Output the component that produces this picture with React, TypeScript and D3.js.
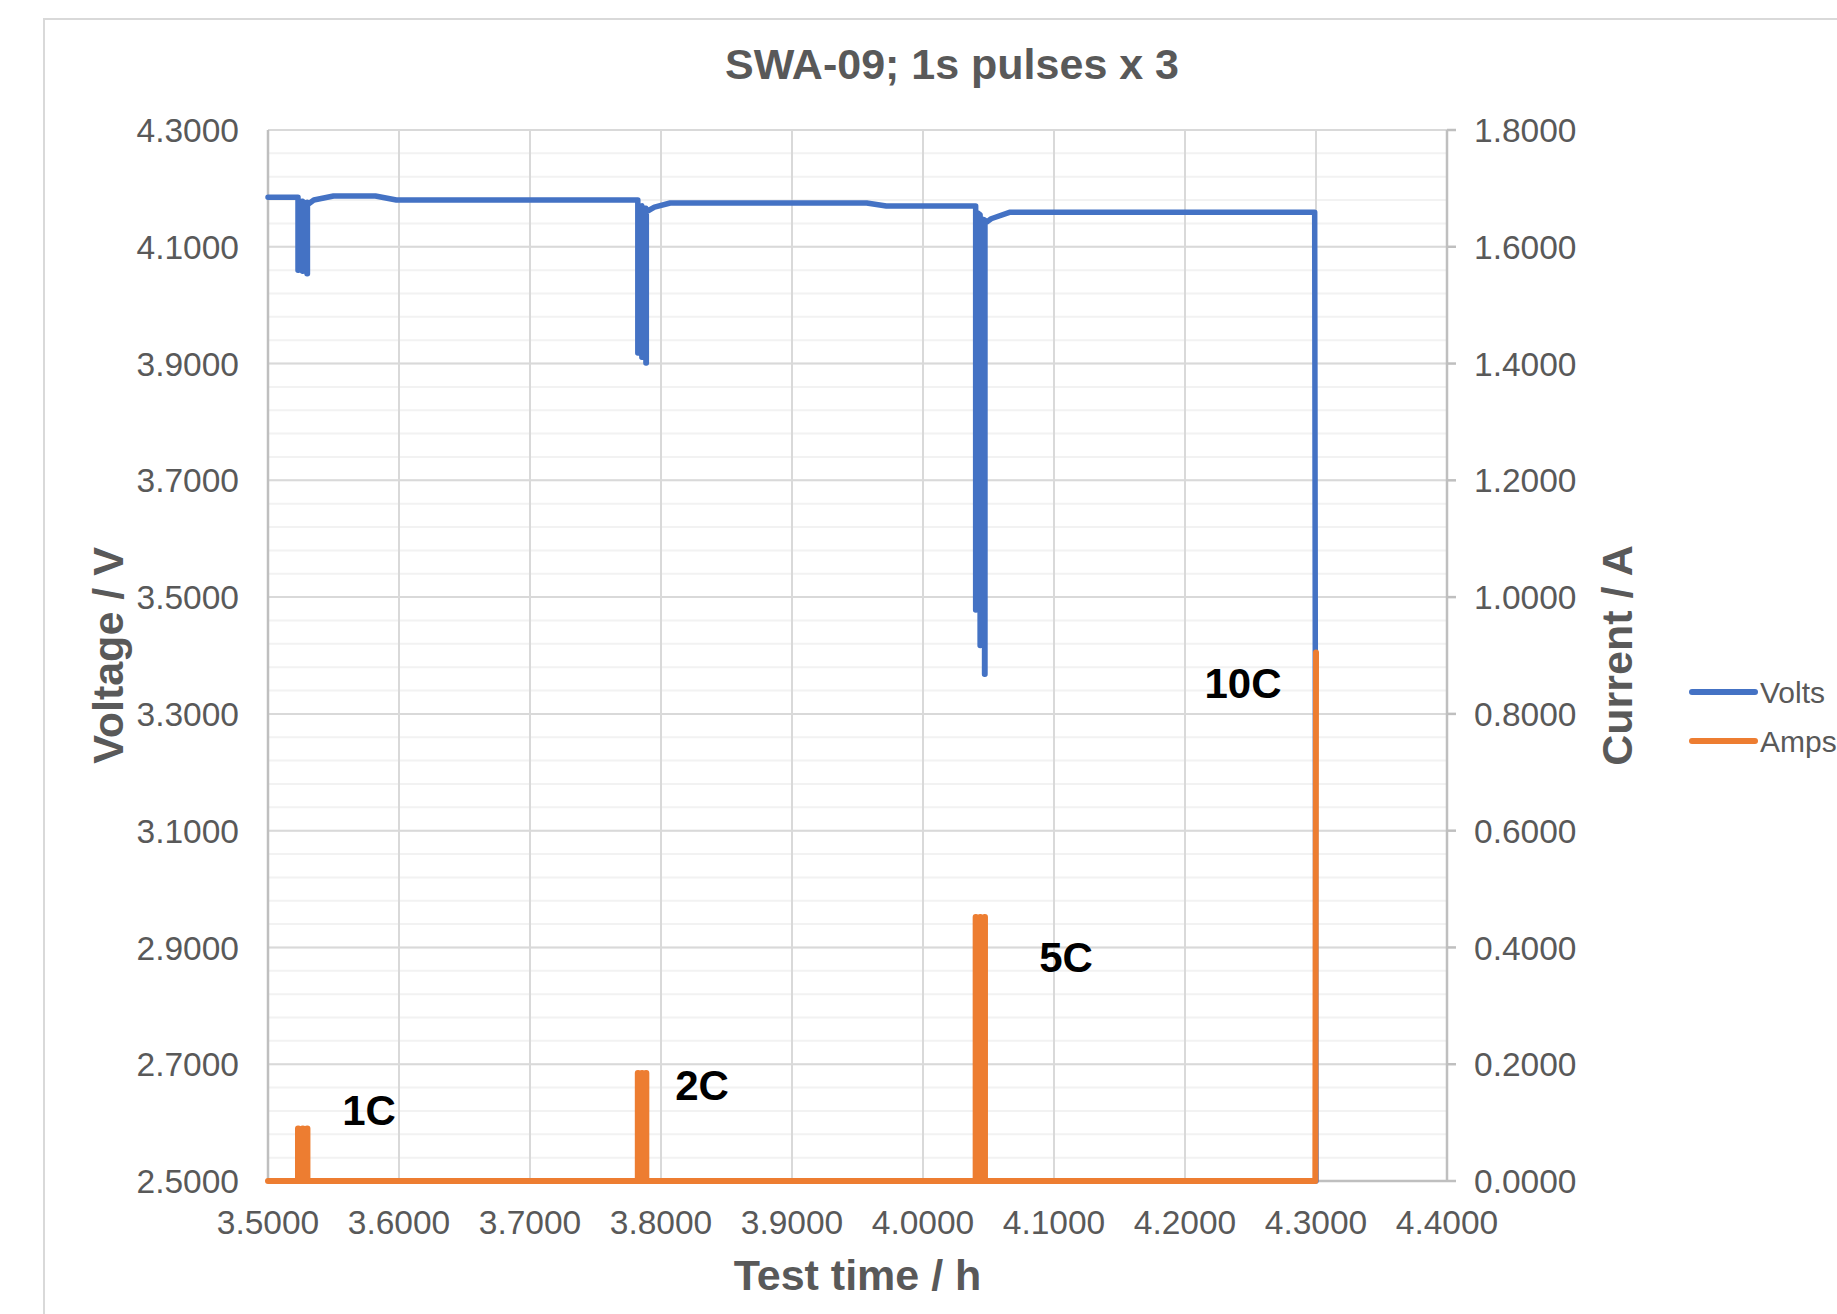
import React, { useEffect, useRef } from "react";
import * as d3 from "d3";

// Voltage trace (test time in hours, volts)
const voltTime = [
  3.5, 3.5229, 3.5229, 3.5232, 3.5232, 3.5264, 3.5264, 3.5267, 3.5267, 3.5298, 3.5298, 3.5301, 3.5301,
  3.535, 3.55, 3.582, 3.598, 3.7823, 3.7823, 3.7826, 3.7826, 3.7854, 3.7854, 3.7857, 3.7857, 3.7885,
  3.7885, 3.7888, 3.7888, 3.795, 3.807, 3.957, 3.972, 4.0402, 4.0402, 4.0405, 4.0405, 4.0436, 4.0436,
  4.0439, 4.0439, 4.047, 4.047, 4.0473, 4.0473, 4.052, 4.066, 4.299, 4.3,
];
const voltValues = [
  4.185, 4.185, 4.06, 4.06, 4.176, 4.178, 4.058, 4.058, 4.174, 4.176, 4.054, 4.054, 4.172,
  4.18, 4.187, 4.187, 4.18, 4.18, 3.918, 3.918, 4.168, 4.17, 3.911, 3.911, 4.164, 4.166,
  3.901, 3.901, 4.16, 4.168, 4.175, 4.175, 4.17, 4.17, 3.478, 3.478, 4.16, 4.155, 3.417,
  3.417, 4.148, 4.146, 3.368, 3.368, 4.14, 4.148, 4.159, 4.159, 2.5,
];

// Current trace (test time in hours, amps)
const ampTime = [
  3.5, 3.5229, 3.5229, 3.5232, 3.5232, 3.5264, 3.5264, 3.5267, 3.5267, 3.5298, 3.5298, 3.5301, 3.5301,
  3.7823, 3.7823, 3.7826, 3.7826, 3.7854, 3.7854, 3.7857, 3.7857, 3.7885, 3.7885, 3.7888, 3.7888,
  4.0402, 4.0402, 4.0405, 4.0405, 4.0436, 4.0436, 4.0439, 4.0439, 4.047, 4.047, 4.0473, 4.0473,
  4.2995, 4.3,
];
const ampValues = [
  0, 0, 0.09, 0.09, 0, 0, 0.09, 0.09, 0, 0, 0.09, 0.09, 0,
  0, 0.185, 0.185, 0, 0, 0.185, 0.185, 0, 0, 0.185, 0.185, 0,
  0, 0.452, 0.452, 0, 0, 0.452, 0.452, 0, 0, 0.452, 0.452, 0,
  0, 0.905,
];

const xTicks = [3.5, 3.6, 3.7, 3.8, 3.9, 4.0, 4.1, 4.2, 4.3, 4.4];
const voltTicks = [2.5, 2.7, 2.9, 3.1, 3.3, 3.5, 3.7, 3.9, 4.1, 4.3];
const voltMinorTicks = d3.range(2.5, 4.3001, 0.04);
const ampTicks = [0, 0.2, 0.4, 0.6, 0.8, 1.0, 1.2, 1.4, 1.6, 1.8];

const pulseLabels = [
  { text: "1C", t: 3.5771, a: 0.122 },
  { text: "2C", t: 3.8313, a: 0.164 },
  { text: "5C", t: 4.1092, a: 0.384 },
  { text: "10C", t: 4.2443, a: 0.853 },
];

const legendItems = [
  { name: "Volts", color: "#4472C4" },
  { name: "Amps", color: "#ED7D31" },
];

const FONT = "'Liberation Sans', Arial, sans-serif";

export default function App() {
  const ref = useRef<SVGSVGElement>(null);

  useEffect(() => {
    const svgWidth = 1837;
    const svgHeight = 1314;
    const left = 268;
    const right = 1447;
    const top = 130;
    const bottom = 1181;

    const svg = d3.select(ref.current);
    svg.selectAll("*").remove();
    svg.attr("width", svgWidth).attr("height", svgHeight);

    // chart area border
    svg
      .append("rect")
      .attr("x", 44)
      .attr("y", 19)
      .attr("width", 1900)
      .attr("height", 1400)
      .attr("fill", "#fff")
      .attr("stroke", "#d9d9d9")
      .attr("stroke-width", 2);

    const x = d3.scaleLinear().domain([3.5, 4.4]).range([left, right]);
    const yV = d3.scaleLinear().domain([2.5, 4.3]).range([bottom, top]);
    const yA = d3.scaleLinear().domain([0, 1.8]).range([bottom, top]);

    // minor horizontal gridlines
    svg
      .append("g")
      .selectAll("line")
      .data(voltMinorTicks)
      .enter()
      .append("line")
      .attr("x1", left)
      .attr("x2", right)
      .attr("y1", (d) => yV(d))
      .attr("y2", (d) => yV(d))
      .attr("stroke", "#f2f2f2")
      .attr("stroke-width", 2);

    // major horizontal gridlines
    svg
      .append("g")
      .selectAll("line")
      .data(voltTicks)
      .enter()
      .append("line")
      .attr("x1", left)
      .attr("x2", right)
      .attr("y1", (d) => yV(d))
      .attr("y2", (d) => yV(d))
      .attr("stroke", "#d9d9d9")
      .attr("stroke-width", 2);

    // vertical gridlines
    svg
      .append("g")
      .selectAll("line")
      .data(xTicks.slice(1, -1))
      .enter()
      .append("line")
      .attr("x1", (d) => x(d))
      .attr("x2", (d) => x(d))
      .attr("y1", top)
      .attr("y2", bottom)
      .attr("stroke", "#d9d9d9")
      .attr("stroke-width", 2);

    // axis lines
    const axisColor = "#bfbfbf";
    svg.append("line").attr("x1", left).attr("x2", left).attr("y1", top).attr("y2", bottom)
      .attr("stroke", axisColor).attr("stroke-width", 2.5);
    svg.append("line").attr("x1", right).attr("x2", right).attr("y1", top).attr("y2", bottom)
      .attr("stroke", axisColor).attr("stroke-width", 2.5);
    svg.append("line").attr("x1", left).attr("x2", right).attr("y1", bottom).attr("y2", bottom)
      .attr("stroke", axisColor).attr("stroke-width", 2.5);

    // right axis ticks
    svg
      .append("g")
      .selectAll("line")
      .data(ampTicks)
      .enter()
      .append("line")
      .attr("x1", right)
      .attr("x2", right + 9)
      .attr("y1", (d) => yA(d))
      .attr("y2", (d) => yA(d))
      .attr("stroke", axisColor)
      .attr("stroke-width", 2.5);

    const tickFont = 33.5;
    const tickColor = "#595959";

    // left tick labels
    svg
      .append("g")
      .selectAll("text")
      .data(voltTicks)
      .enter()
      .append("text")
      .attr("x", 239)
      .attr("y", (d) => yV(d))
      .attr("dy", "0.36em")
      .attr("text-anchor", "end")
      .attr("font-family", FONT)
      .attr("font-size", tickFont)
      .attr("fill", tickColor)
      .text((d) => d.toFixed(4));

    // right tick labels
    svg
      .append("g")
      .selectAll("text")
      .data(ampTicks)
      .enter()
      .append("text")
      .attr("x", 1474)
      .attr("y", (d) => yA(d))
      .attr("dy", "0.36em")
      .attr("text-anchor", "start")
      .attr("font-family", FONT)
      .attr("font-size", tickFont)
      .attr("fill", tickColor)
      .text((d) => d.toFixed(4));

    // bottom tick labels
    svg
      .append("g")
      .selectAll("text")
      .data(xTicks)
      .enter()
      .append("text")
      .attr("x", (d) => x(d))
      .attr("y", 1222)
      .attr("dy", "0.36em")
      .attr("text-anchor", "middle")
      .attr("font-family", FONT)
      .attr("font-size", tickFont)
      .attr("fill", tickColor)
      .text((d) => d.toFixed(4));

    // data lines
    const voltLine = d3
      .line<number>()
      .x((d, i) => x(voltTime[i]))
      .y((d) => yV(d));
    const ampLine = d3
      .line<number>()
      .x((d, i) => x(ampTime[i]))
      .y((d) => yA(d));

    svg
      .append("path")
      .attr("d", voltLine(voltValues))
      .attr("fill", "none")
      .attr("stroke", "#4472C4")
      .attr("stroke-width", 5.5)
      .attr("stroke-linejoin", "round")
      .attr("stroke-linecap", "round");

    svg
      .append("path")
      .attr("d", ampLine(ampValues))
      .attr("fill", "none")
      .attr("stroke", "#ED7D31")
      .attr("stroke-width", 6)
      .attr("stroke-linejoin", "round")
      .attr("stroke-linecap", "round");

    // pulse labels
    svg
      .append("g")
      .selectAll("text")
      .data(pulseLabels)
      .enter()
      .append("text")
      .attr("x", (d) => x(d.t))
      .attr("y", (d) => yA(d.a))
      .attr("dy", "0.36em")
      .attr("text-anchor", "middle")
      .attr("font-family", FONT)
      .attr("font-size", 42)
      .attr("font-weight", "bold")
      .attr("fill", "#000")
      .text((d) => d.text);

    const titleFont = 43;

    // title
    svg
      .append("text")
      .attr("x", 952)
      .attr("y", 64)
      .attr("dy", "0.36em")
      .attr("text-anchor", "middle")
      .attr("font-family", FONT)
      .attr("font-size", titleFont)
      .attr("font-weight", "bold")
      .attr("fill", tickColor)
      .text("SWA-09; 1s pulses x 3");

    // axis titles
    svg
      .append("text")
      .attr("x", (left + right) / 2)
      .attr("y", 1275)
      .attr("dy", "0.36em")
      .attr("text-anchor", "middle")
      .attr("font-family", FONT)
      .attr("font-size", titleFont)
      .attr("font-weight", "bold")
      .attr("fill", tickColor)
      .text("Test time / h");

    svg
      .append("text")
      .attr("transform", `translate(108,${(top + bottom) / 2}) rotate(-90)`)
      .attr("dy", "0.36em")
      .attr("text-anchor", "middle")
      .attr("font-family", FONT)
      .attr("font-size", titleFont)
      .attr("font-weight", "bold")
      .attr("fill", tickColor)
      .text("Voltage / V");

    svg
      .append("text")
      .attr("transform", `translate(1617,${(top + bottom) / 2}) rotate(-90)`)
      .attr("dy", "0.36em")
      .attr("text-anchor", "middle")
      .attr("font-family", FONT)
      .attr("font-size", titleFont)
      .attr("font-weight", "bold")
      .attr("fill", tickColor)
      .text("Current / A");

    // legend
    const legend = svg
      .append("g")
      .selectAll("g")
      .data(legendItems)
      .enter()
      .append("g")
      .attr("transform", (d, i) => `translate(0,${692 + i * 49})`);

    legend
      .append("line")
      .attr("x1", 1692)
      .attr("x2", 1755)
      .attr("stroke", (d) => d.color)
      .attr("stroke-width", 6)
      .attr("stroke-linecap", "round");

    legend
      .append("text")
      .attr("x", 1760)
      .attr("dy", "0.36em")
      .attr("font-family", FONT)
      .attr("font-size", 30)
      .attr("fill", tickColor)
      .text((d) => d.name);
  }, []);

  return (
    <svg
      ref={ref}
      style={{ position: "absolute", left: 0, top: 0, display: "block", overflow: "hidden" }}
    />
  );
}
